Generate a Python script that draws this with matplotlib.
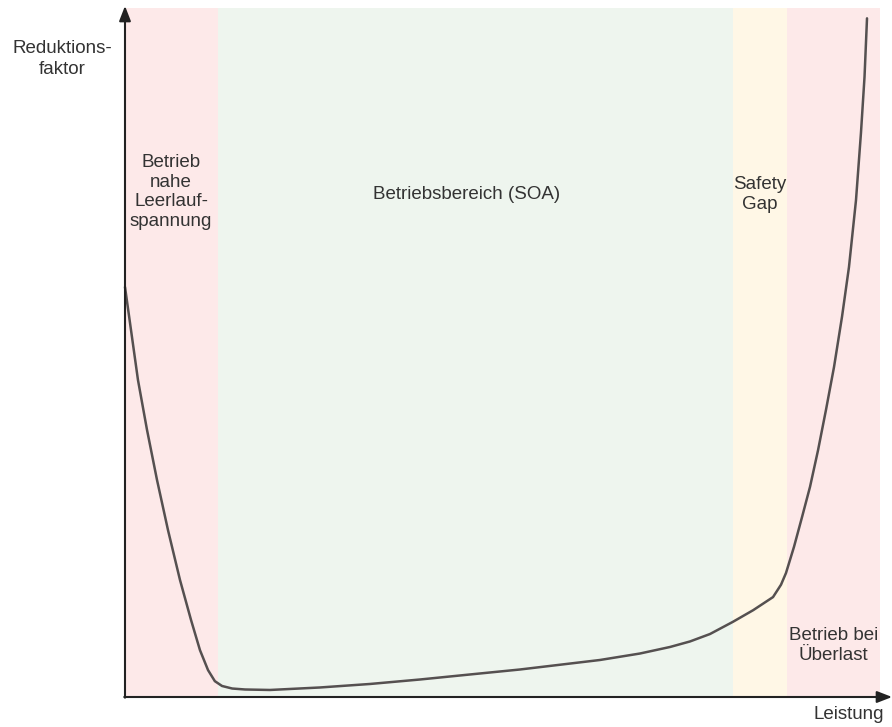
import matplotlib.pyplot as plt
import numpy as np

# curve (Leistung in %, Reduktionsfaktor in % of axis height)
leistung = [0.0, 0.79, 1.72, 2.91, 4.24, 5.70, 7.28, 8.74, 9.93, 11.0, 11.9, 12.85,
            14.2, 15.9, 19.2, 25.8, 32.45, 39.07, 45.7, 52.3, 62.9, 68.2, 72.19, 74.83,
            77.48, 80.5, 83.2, 85.83, 86.89, 87.55, 88.61, 89.67, 90.73, 91.79, 92.85,
            93.91, 94.97, 95.89, 96.82, 97.48, 97.95, 98.28]
faktor = [59.5, 53.3, 46.0, 38.8, 31.5, 24.2, 17.0, 11.2, 6.8, 3.9, 2.3, 1.6,
          1.23, 1.09, 1.02, 1.38, 1.89, 2.54, 3.27, 3.99, 5.37, 6.31, 7.26, 8.06,
          9.14, 10.9, 12.6, 14.5, 16.3, 18.0, 21.8, 26.1, 30.5, 35.8, 41.7,
          47.9, 55.2, 62.4, 72.1, 81.9, 90.0, 98.5]

# zones: (start, end, colour)
zone_edges = [0.0, 12.3, 80.5, 87.7, 100.0]
zone_colors = ['#fde9e9', '#eef5ee', '#fff7e6', '#fde9e9']

labels = [
    ('Betrieb\nnahe\nLeerlauf-\nspannung', 6.1, 73.3),
    ('Betriebsbereich (SOA)', 45.3, 72.9),
    ('Safety\nGap', 84.1, 72.9),
    ('Betrieb bei\nÜberlast', 93.8, 7.5),
]

plt.rcParams['font.family'] = ['Liberation Sans', 'DejaVu Sans']
txt = '#333333'

fig = plt.figure(figsize=(8.92, 7.27), dpi=100)
ax = fig.add_axes([125 / 892, 30 / 727, 755 / 892, 689 / 727])
ax.set_xlim(0, 100)
ax.set_ylim(0, 100)
ax.axis('off')

for i in range(len(zone_colors)):
    ax.axvspan(zone_edges[i], zone_edges[i + 1], color=zone_colors[i], lw=0, zorder=0)

ax.plot(leistung, faktor, color='#555050', lw=1.8, solid_joinstyle='round',
        solid_capstyle='round', zorder=3, clip_on=False)

# axes arrows
arrow = dict(arrowstyle='-|>,head_length=0.9,head_width=0.35', color='#222222',
             lw=1.5, shrinkA=0, shrinkB=0)
ax.annotate('', xy=(101.6, 0), xytext=(-0.1, 0), arrowprops=arrow, annotation_clip=False)
ax.annotate('', xy=(0, 100.3), xytext=(0, -0.1), arrowprops=arrow, annotation_clip=False)

for s, x, y in labels:
    ax.text(x, y, s, ha='center', va='center', fontsize=13.5, color=txt,
            linespacing=1.22, zorder=4)

ax.text(-8.3, 92.6, 'Reduktions-\nfaktor', ha='center', va='center', fontsize=13.5,
        color=txt, linespacing=1.3, clip_on=False)
ax.text(95.8, -2.6, 'Leistung', ha='center', va='center', fontsize=13.5,
        color=txt, clip_on=False)

fig.savefig('out.png', dpi=100)
